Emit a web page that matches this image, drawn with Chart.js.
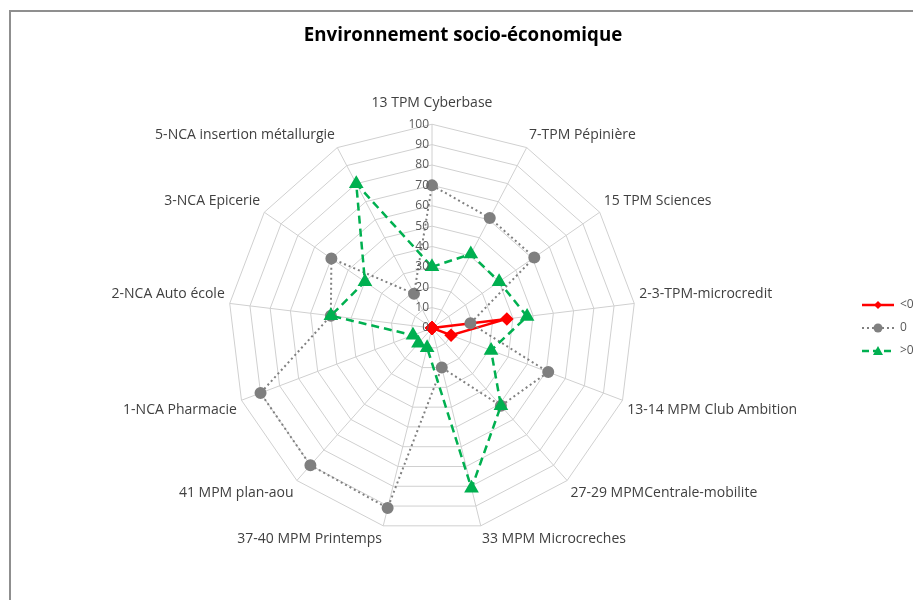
<!DOCTYPE html>
<html>
<head>
<meta charset="utf-8">
<script src="https://cdn.jsdelivr.net/npm/chart.js@4/dist/chart.umd.min.js"></script>
<style>
    html, body { margin: 0; padding: 0; background: #fff; }
    #frame {
        position: absolute; left: 9px; top: 10px; width: 1000px; height: 1000px;
        border-top: 2px solid #8f8f8f; border-left: 2px solid #8f8f8f;
    }
    #wrap { position: absolute; left: 0; top: 0; width: 913px; height: 600px; }
</style>
</head>
<body>
<div id="frame"></div>
<div id="wrap"><canvas id="radarChart" width="913" height="600"></canvas></div>
<script>
// Categories (clockwise from the top)
const CATEGORIES = [
    '13 TPM Cyberbase',
    '7-TPM Pépinière',
    '15 TPM Sciences',
    '2-3-TPM-microcredit',
    '13-14 MPM Club Ambition',
    '27-29 MPMCentrale-mobilite',
    '33 MPM Microcreches',
    '37-40 MPM Printemps',
    '41 MPM plan-aou',
    '1-NCA Pharmacie',
    '2-NCA Auto école',
    '3-NCA Epicerie',
    '5-NCA insertion métallurgie'
];

// Series values
const SERIES_NAMES = ['<0', '0', '>0'];
const NEG_VALUES = [0, 0, 0, 37, 10, 0, 0, 0, 0, 0, 0, 0, 0];
const ZERO_VALUES = [70, 61, 61, 19, 61, 51, 20, 91, 90, 90, 50, 60, 19];
const POS_VALUES = [30, 41, 40, 47, 31, 51, 81, 10, 10, 10, 50, 40, 80];

// Radial axis
const AXIS_MIN = 0;
const AXIS_MAX = 100;
const AXIS_STEP = 10;

const COLORS = {
    red: '#ff0000',
    gray: '#808080',
    green: '#00b050',
    grid: '#d0d0d0',
    text: '#404040',
    tick: '#595959'
};

const FONT = "'Open Sans', 'Noto Sans', sans-serif";

// Small legend icons: line sample with marker
function makeLegendIcon(color, dash, width, marker) {
    const c = document.createElement('canvas');
    c.width = 34;
    c.height = 14;
    const g = c.getContext('2d');
    g.strokeStyle = color;
    g.fillStyle = color;
    g.lineWidth = width;
    g.setLineDash(dash);
    g.beginPath();
    g.moveTo(1, 7);
    g.lineTo(33, 7);
    g.stroke();
    g.setLineDash([]);
    g.beginPath();
    if (marker === 'diamond') {
        g.moveTo(17, 3); g.lineTo(21, 7); g.lineTo(17, 11); g.lineTo(13, 7);
    } else if (marker === 'circle') {
        g.arc(17, 7, 4.5, 0, Math.PI * 2);
    } else {
        g.moveTo(17, 2); g.lineTo(22, 11); g.lineTo(12, 11);
    }
    g.closePath();
    g.fill();
    return c;
}

const LEGEND_ICONS = [
    makeLegendIcon(COLORS.red, [], 2.5, 'diamond'),
    makeLegendIcon(COLORS.gray, [2, 3], 2, 'circle'),
    makeLegendIcon(COLORS.green, [7, 4], 2.5, 'triangle')
];

// Tick labels drawn to the left of the vertical axis, like the original
const leftTickLabels = {
    id: 'leftTickLabels',
    afterDatasetsDraw(chart) {
        const scale = chart.scales.r;
        const ctx = chart.ctx;
        ctx.save();
        ctx.font = '12px ' + FONT;
        ctx.fillStyle = COLORS.tick;
        ctx.textAlign = 'right';
        ctx.textBaseline = 'middle';
        scale.ticks.forEach(function(tick) {
            const d = scale.getDistanceFromCenterForValue(tick.value);
            ctx.fillText(tick.label, scale.xCenter - 3, scale.yCenter - d);
        });
        ctx.restore();
    }
};

// Move the legend block down so it sits level with the radar centre
const legendOffset = {
    id: 'legendOffset',
    afterLayout(chart) {
        const lg = chart.legend;
        if (!lg) return;
        const target = chart.scales.r.yCenter;
        const current = (lg.top + lg.bottom) / 2;
        const dy = target - current;
        lg.top += dy;
        lg.bottom += dy;
    }
};

document.addEventListener('DOMContentLoaded', function() {
    const ctx = document.getElementById('radarChart');

    new Chart(ctx, {
        type: 'radar',
        data: {
            labels: CATEGORIES,
            datasets: [{
                label: SERIES_NAMES[0],
                data: NEG_VALUES,
                order: 3,
                borderColor: COLORS.red,
                backgroundColor: COLORS.red,
                borderWidth: 2.5,
                pointStyle: 'rectRot',
                pointRadius: 5,
                pointBackgroundColor: COLORS.red,
                pointBorderColor: COLORS.red,
                fill: false
            }, {
                label: SERIES_NAMES[1],
                data: ZERO_VALUES,
                order: 2,
                borderColor: COLORS.gray,
                backgroundColor: COLORS.gray,
                borderWidth: 2,
                borderDash: [2, 3],
                pointStyle: 'circle',
                pointRadius: 5,
                pointBackgroundColor: '#7f7f7f',
                pointBorderColor: '#7f7f7f',
                fill: false
            }, {
                label: SERIES_NAMES[2],
                data: POS_VALUES,
                order: 1,
                borderColor: COLORS.green,
                backgroundColor: COLORS.green,
                borderWidth: 2.5,
                borderDash: [8, 5],
                pointStyle: 'triangle',
                pointRadius: 6,
                pointBackgroundColor: COLORS.green,
                pointBorderColor: COLORS.green,
                fill: false
            }]
        },
        options: {
            responsive: false,
            animation: false,
            layout: {
                padding: { top: 10, bottom: 45, left: 13, right: 0 }
            },
            plugins: {
                title: {
                    display: true,
                    text: 'Environnement socio-économique',
                    color: '#000',
                    font: { family: FONT, size: 18.7, weight: 'bold' },
                    padding: { top: 14, bottom: 41 }
                },
                legend: {
                    position: 'right',
                    maxWidth: 62,
                    labels: {
                        color: COLORS.tick,
                        font: { family: FONT, size: 12 },
                        usePointStyle: true,
                        pointStyleWidth: 32,
                        padding: 11,
                        sort: function(a, b) { return a.datasetIndex - b.datasetIndex; },
                        generateLabels: function(chart) {
                            const items = Chart.defaults.plugins.legend.labels.generateLabels(chart);
                            items.forEach(function(item) {
                                item.pointStyle = LEGEND_ICONS[item.datasetIndex];
                            });
                            return items;
                        }
                    }
                },
                tooltip: { enabled: false }
            },
            scales: {
                r: {
                    min: AXIS_MIN,
                    max: AXIS_MAX,
                    ticks: {
                        stepSize: AXIS_STEP,
                        display: false
                    },
                    grid: { color: COLORS.grid, lineWidth: 1 },
                    angleLines: { color: COLORS.grid, lineWidth: 1 },
                    pointLabels: {
                        color: COLORS.text,
                        font: { family: FONT, size: 14 },
                        padding: function(context) {
                            return context.index === 0 ? 13 : 5;
                        }
                    }
                }
            }
        },
        plugins: [leftTickLabels, legendOffset]
    });
});
</script>
</body>
</html>
